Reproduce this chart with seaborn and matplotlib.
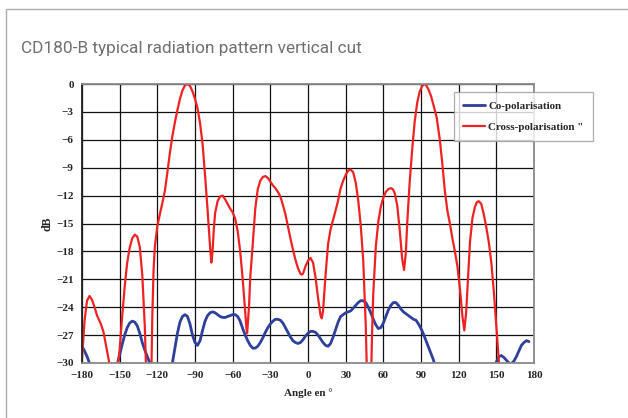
import numpy as np
import pandas as pd
import matplotlib
matplotlib.use('Agg')
import matplotlib.pyplot as plt
import seaborn as sns
from matplotlib.patches import Rectangle

# cross-polarisation (red), angle in degrees / level in dB
cross_angle = [-180, -178, -176, -174, -172, -170, -168, -165, -163, -161, -158, -156, -154,
               -152, -150, -148, -146, -144, -142, -140, -138, -136, -134, -132, -130, -129, -128,
               -126, -125, -124, -123, -122, -120, -118, -116, -114, -112, -110, -108, -106, -104,
               -102, -100, -98, -96, -94, -92, -90, -88, -86, -84, -82, -80, -78, -77, -76, -75,
               -74, -72, -70, -68, -66, -64, -62, -60, -58, -56, -54, -52, -50, -49, -48.5, -47,
               -46, -44, -42, -40, -38, -36, -34, -32, -30, -28, -26, -24, -22, -20, -18, -16,
               -14, -12, -10, -8, -6, -5, -4, -2, 0, 2, 4, 6, 8, 10, 11, 12, 14, 16, 18, 20, 22,
               24, 26, 28, 30, 32, 34, 36, 38, 40, 42, 44, 46, 47, 48, 49, 50, 51, 52, 54, 56, 58,
               60, 62, 64, 66, 67.5, 69, 71, 73, 75, 76.5, 78, 79, 81, 83, 85, 87, 89, 91, 93, 94,
               96, 98, 100, 102.5, 105, 107, 109, 111, 113, 115, 117, 119, 121, 123, 124.5, 126,
               127, 129, 131, 133, 134.5, 136, 138, 140, 142, 144, 146, 148, 150, 152, 154, 156]
cross_db = [-29.5, -25.5, -23.3, -22.8, -23.2, -24.0, -24.9, -25.8, -26.6, -28.0, -30.2, -33, -34,
            -31.0, -28.5, -25.0, -21.8, -19.2, -17.6, -16.6, -16.2, -16.4, -17.5, -20.5, -26.0, -30.5, -36,
            -37, -33, -25.0, -20.0, -17.5, -15.3, -14.0, -12.8, -11.5, -9.5, -7.4, -5.6, -4.1, -2.8,
            -1.6, -0.7, -0.15, 0.0, -0.2, -0.8, -1.6, -2.6, -4.2, -6.4, -9.8, -13.5, -17.5, -19.2, -18.0, -15.6,
            -13.9, -12.6, -12.1, -12.0, -12.4, -12.9, -13.4, -13.8, -14.5, -15.8, -18.0, -21.0, -24.5, -26.3, -26.8, -24.0,
            -20.8, -17.2, -13.4, -11.3, -10.4, -10.0, -9.9, -10.1, -10.5, -10.9, -11.2, -11.6, -12.1, -13.0, -14.0, -15.3,
            -16.6, -17.8, -18.9, -19.8, -20.4, -20.5, -20.4, -19.6, -19.0, -18.7, -19.2, -20.8, -23.0, -24.9, -25.2, -24.4,
            -20.5, -17.2, -15.6, -14.6, -13.6, -12.5, -11.2, -10.4, -9.8, -9.3, -9.2, -9.5, -10.6, -12.5, -15.2, -19.0,
            -26.0, -31.5, -37, -37, -33, -27, -22.5, -17.5, -14.8, -13.2, -12.2, -11.6, -11.3, -11.2, -11.3, -11.7,
            -13.0, -15.6, -18.8, -20.0, -18.0, -15.0, -10.5, -7.0, -4.0, -2.0, -0.8, -0.2, 0.0, -0.1,
            -0.6, -1.3, -2.3, -3.6, -6.0, -8.6, -11.5, -13.6, -15.0, -16.6, -18.0, -19.6, -22.0, -25.0, -26.5, -24.5,
            -22.0, -17.0, -14.4, -13.2, -12.7, -12.6, -12.9, -14.0, -15.4, -17.0, -19.2, -22.3, -26.0, -29.8, -34, -38]

# co-polarisation (blue)
co_angle = [-180, -178, -176, -174, -170, -165, -160, -155, -152, -150, -148, -146, -144, -142,
            -140, -138, -136, -134, -132, -130, -128, -126, -124, -120, -115, -110, -108, -106,
            -104, -102, -100, -98, -96, -94, -92, -90, -88, -86, -84, -82, -80, -78, -76, -74,
            -72, -70, -68, -66, -64, -62, -60, -58, -56, -54, -52, -50, -48, -46, -44, -42, -40,
            -38, -36, -34, -32, -30, -28, -26, -24, -22, -20, -18, -16, -14, -12, -10, -8, -6,
            -4, -2, 0, 2, 4, 6, 8, 10, 12, 14, 16, 18, 20, 22, 24, 26, 28, 30, 32, 34, 36, 38,
            40, 42, 44, 46, 48, 50, 52, 54, 56, 58, 60, 62, 64, 66, 68, 70, 72, 74, 76, 78, 80,
            82, 84, 86, 88, 90, 92, 94, 96, 98, 100, 102, 106, 115, 125, 135, 142, 146, 148, 150,
            152, 154, 156, 158, 160, 162, 164, 166, 168, 170, 172, 174, 176]
co_db = [-28.2, -28.7, -29.3, -30.0, -31.5, -33, -33, -31.5, -30.2, -29.1, -28.0, -27.0, -26.2, -25.7,
         -25.5, -25.6, -26.0, -26.8, -27.8, -28.6, -29.3, -30.0, -31.0, -33, -33, -31.5, -30.0, -28.4,
         -26.8, -25.6, -25.0, -24.8, -25.0, -25.8, -27.0, -27.8, -28.1, -27.6, -26.5, -25.5, -24.9, -24.6, -24.5, -24.6,
         -24.8, -25.0, -25.1, -25.1, -25.0, -24.9, -24.8, -24.8, -25.0, -25.5, -26.3, -27.0, -27.6, -28.1, -28.4, -28.4, -28.2,
         -27.8, -27.3, -26.7, -26.2, -25.8, -25.5, -25.3, -25.3, -25.4, -25.7, -26.2, -26.7, -27.2, -27.6, -27.8, -27.9, -27.8,
         -27.5, -27.1, -26.8, -26.6, -26.6, -26.7, -27.0, -27.4, -27.8, -28.1, -28.2, -27.9, -27.2, -26.4, -25.6, -25.0, -24.8, -24.6, -24.5, -24.4, -24.1, -23.8,
         -23.5, -23.3, -23.3, -23.5, -24.0, -24.6, -25.3, -25.9, -26.3, -26.2, -25.7, -25.0, -24.3, -23.8, -23.5, -23.5, -23.8, -24.2, -24.5, -24.7, -24.9,
         -25.1, -25.3, -25.4, -25.8, -26.3, -26.9, -27.6, -28.3, -29.0, -29.7, -30.8, -33, -36, -37, -36, -33, -31.5, -30.6, -29.9,
         -29.3, -29.2, -29.4, -29.7, -30.0, -30.05, -29.8, -29.3, -28.7, -28.1, -27.8, -27.6, -27.7]

x_ticks = list(range(-180, 181, 30))
y_ticks = list(range(-30, 1, 3))

cross = pd.DataFrame({'angle': cross_angle, 'dB': cross_db})
co = pd.DataFrame({'angle': co_angle, 'dB': co_db})

sns.set_style('white')
plt.rcParams['font.family'] = ['Liberation Serif', 'DejaVu Serif']

fig = plt.figure(figsize=(6.28, 4.18), dpi=100)
ax = fig.add_axes([82/628, 1-363/418, (534-82)/628, (363-84)/418])

sns.lineplot(data=co, x='angle', y='dB', ax=ax, color='#2e3f9c', linewidth=2.0,
             sort=False, label='Co-polarisation')
sns.lineplot(data=cross, x='angle', y='dB', ax=ax, color='#ee2222', linewidth=1.6,
             sort=False, label='Cross-polarisation "')

ax.set_xlim(-180, 180)
ax.set_ylim(-30, 0)
ax.set_xticks(x_ticks)
ax.set_yticks(y_ticks)
ax.grid(True, color='#111111', linewidth=0.9)
ax.set_axisbelow(True)
for s in ax.spines.values():
    s.set_color('#8a8a8a')
    s.set_linewidth(1.3)
ax.spines['left'].set_color('#222222')
ax.tick_params(axis='both', direction='out', length=3, width=0.8, color='#444444',
               labelsize=8, pad=3)
for lab in ax.get_xticklabels() + ax.get_yticklabels():
    lab.set_fontweight('bold')
ax.set_xlabel('Angle en °', fontsize=8, fontweight='bold', labelpad=6)
ax.set_ylabel('dB', fontsize=8.5, fontweight='bold', labelpad=2)

leg = ax.legend(loc='upper left', bbox_to_anchor=(454/628, 1-92/418), bbox_transform=fig.transFigure,
                frameon=True, fancybox=False, fontsize=7.9, handlelength=2.0, handletextpad=0.25,
                labelspacing=1.0, borderpad=0.85, borderaxespad=0)
leg.get_frame().set_edgecolor('#999999')
leg.get_frame().set_linewidth(0.9)
for t in leg.get_texts():
    t.set_fontweight('bold')

# outer card border and title
fig.add_artist(Rectangle((6/628, -0.1), 1.2, 1.1 - 9.5/418, transform=fig.transFigure,
                         fill=False, edgecolor='#a9adb2', linewidth=1.0, clip_on=False))
fig.text(21/628, 1-53/418, 'CD180-B typical radiation pattern vertical cut', fontsize=12.4,
         family=['Roboto', 'DejaVu Sans'], fontweight='normal', color='#6e7074', va='baseline')

fig.savefig('out.png', dpi=100)
